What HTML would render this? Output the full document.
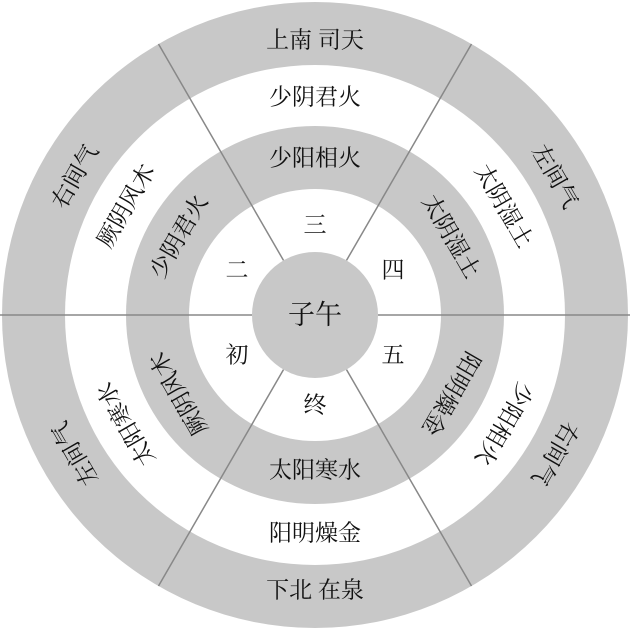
<!DOCTYPE html>
<html><head><meta charset="utf-8"><style>
html,body{margin:0;padding:0;background:#fff}
text{font-family:"Liberation Serif","Noto Serif CJK SC",serif;font-size:23px;fill:#111;text-anchor:middle;dominant-baseline:central}
</style></head><body>
<svg width="630" height="630" viewBox="0 0 630 630">
<circle cx="315" cy="315" r="313" fill="#c8c8c8"/>
<circle cx="315" cy="315" r="250" fill="#fff"/>
<circle cx="315" cy="315" r="189" fill="#c8c8c8"/>
<circle cx="315" cy="315" r="126" fill="#fff"/>
<circle cx="315" cy="315" r="63" fill="#c8c8c8"/>
<g stroke="#888" stroke-width="1.5">
<line x1="378" y1="315" x2="630" y2="315"/>
<line x1="252" y1="315" x2="0" y2="315"/>
<line x1="346.5" y1="260.4" x2="471.5" y2="44"/>
<line x1="283.5" y1="260.4" x2="158.5" y2="44"/>
<line x1="346.5" y1="369.6" x2="471.5" y2="586"/>
<line x1="283.5" y1="369.6" x2="158.5" y2="586"/>
</g>
<text x="315" y="315" style="font-size:27px">子午</text>
<text x="315" y="225">三</text>
<text x="237" y="270">二</text>
<text x="393" y="270">四</text>
<text x="237" y="355">初</text>
<text x="393" y="355">五</text>
<text x="315" y="405">终</text>
<!-- top -->
<text x="315" y="40">上南 司天</text>
<text x="315" y="97">少阴君火</text>
<text x="315" y="158">少阳相火</text>
<!-- bottom upright -->
<text x="315" y="590">下北 在泉</text>
<text x="315" y="533">阳明燥金</text>
<text x="315" y="470">太阳寒水</text>
<g transform="rotate(60 315 315)">
<text x="315" y="38">左间气</text><text x="315" y="97">太阴湿土</text><text x="315" y="158">太阴湿土</text></g>
<g transform="rotate(-60 315 315)">
<text x="315" y="38">右间气</text><text x="315" y="97">厥阴风木</text><text x="315" y="158">少阴君火</text></g>
<g transform="rotate(120 315 315)">
<text x="315" y="38">右间气</text><text x="315" y="97">少阳相火</text><text x="315" y="158">阳明燥金</text></g>
<g transform="rotate(-120 315 315)">
<text x="315" y="38">左间气</text><text x="315" y="97">太阳寒水</text><text x="315" y="158">厥阴风木</text></g>
</svg>
</body></html>
